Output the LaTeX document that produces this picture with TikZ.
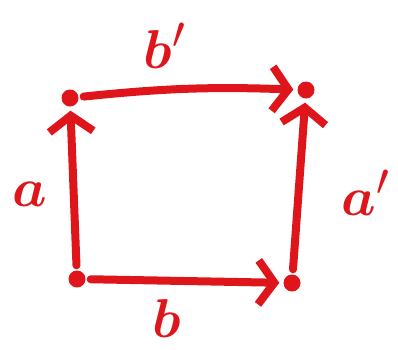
\documentclass[tikz,border=0pt]{standalone}
\usepackage{amsmath,bm}
\usetikzlibrary{arrows.meta,positioning}
\definecolor{InkRed}{RGB}{222,22,28}
\tikzset{
  dot/.style={circle,fill=InkRed,inner sep=0pt,minimum size=17pt},
  lbl/.style={text=InkRed,font=\Huge,scale=2.2,inner sep=0pt},
  arrow/.style={-{Straight Barb[length=16pt,width=44pt,line width=8pt]},line width=8pt,
    InkRed,line cap=round,shorten <=5pt,shorten >=4pt}
}
\begin{document}
\begin{tikzpicture}[x=1pt,y=-1pt]
      \useasboundingbox (0,0) rectangle (398,349);
      \node[dot] (tl) at (70,98) {};
      \node[dot] (tr) at (306,90) {};
      \node[dot] (bl) at (77,279) {};
      \node[dot] (br) at (292,283) {};
      \node[lbl] (lbp) at (165,46) {$\bm{b}'$};
      \node[lbl] (la) at (30,194) {$\bm{a}$};
      \node[lbl] (lap) at (366,193) {$\bm{a}'$};
      \node[lbl] (lb) at (167,318) {$\bm{b}$};
      \draw[arrow] (bl) -- (tl);
      \draw[arrow] (tl) to[bend left=4] (tr);
      \draw[arrow] (bl) -- (br);
      \draw[arrow] (br) -- (tr);
    \end{tikzpicture}
\end{document}
